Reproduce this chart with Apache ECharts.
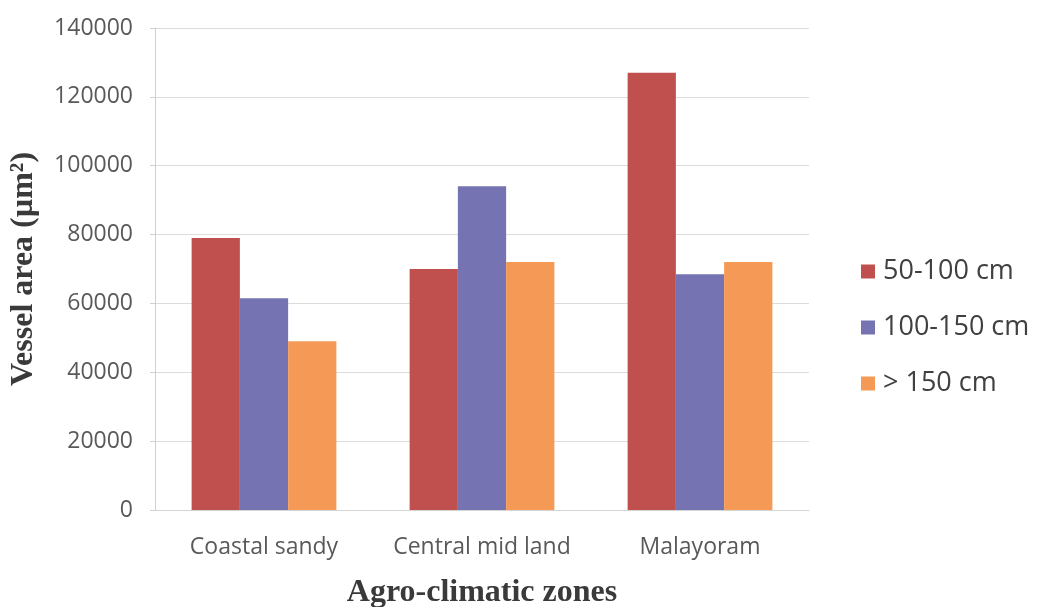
<!DOCTYPE html>
<html>
<head>
<meta charset="utf-8">
<script src="https://cdn.jsdelivr.net/npm/echarts@6/dist/echarts.min.js"></script>
<style>
  html, body { margin: 0; padding: 0; background: #ffffff; }
  #chart { width: 1038px; height: 607px; }
</style>
</head>
<body>
<div id="chart"></div>
<script>
// Agro-climatic zones on the x axis
const zones = ['Coastal sandy', 'Central mid land', 'Malayoram'];

// Vessel area (µm²) per rainfall class
const series50to100 = [79000, 70000, 127000];
const series100to150 = [61500, 94000, 68500];
const seriesOver150 = [49000, 72000, 72000];

const seriesNames = ['50-100 cm', '100-150 cm', '> 150 cm'];
const seriesColors = ['#C0504D', '#7573B1', '#F59A56'];

const yTicks = { min: 0, max: 140000, interval: 20000 };

const chart = echarts.init(document.getElementById('chart'), null, { renderer: 'canvas' });

const barValues = [series50to100, series100to150, seriesOver150];
const sansFont = '"Open Sans", Lato, sans-serif';
const serifFont = '"Liberation Serif", "Times New Roman", serif';

chart.setOption({
  backgroundColor: '#ffffff',
  animation: false,
  grid: { left: 155, right: 229, top: 28, bottom: 97, containLabel: false, outerBoundsMode: 'none' },
  legend: {
    orient: 'vertical',
    left: 856,
    top: 253,
    itemWidth: 14,
    itemHeight: 14,
    itemGap: 29,
    icon: 'rect',
    textStyle: { fontFamily: sansFont, fontSize: 27, color: '#404040', padding: [0, 0, 0, 3] },
    data: seriesNames
  },
  xAxis: {
    type: 'category',
    data: zones,
    name: 'Agro-climatic zones',
    nameLocation: 'middle',
    nameGap: 67,
    nameTextStyle: { fontFamily: serifFont, fontWeight: 'bold', fontSize: 32, color: '#3a3a3a' },
    axisLine: { show: true, lineStyle: { color: '#d4d4d4', width: 1 } },
    axisTick: { show: false },
    axisLabel: {
      fontFamily: sansFont, fontSize: 23, color: '#595959', margin: 26,
      interval: 0, hideOverlap: false
    }
  },
  yAxis: {
    type: 'value',
    min: yTicks.min,
    max: yTicks.max,
    interval: yTicks.interval,
    name: 'Vessel area (µm²)',
    nameLocation: 'middle',
    nameGap: 115,
    nameRotate: 90,
    nameTextStyle: { fontFamily: serifFont, fontWeight: 'bold', fontSize: 32, color: '#3a3a3a' },
    axisLine: { show: true, lineStyle: { color: '#d0d0d0', width: 1 } },
    axisTick: { show: true, length: 5, lineStyle: { color: '#d0d0d0' } },
    axisLabel: {
      fontFamily: sansFont, fontSize: 23, color: '#595959', margin: 22,
      formatter: (v) => String(v)
    },
    splitLine: { show: true, lineStyle: { color: '#dcdcdc', width: 1 } }
  },
  series: seriesNames.map((name, i) => ({
    name: name,
    type: 'bar',
    data: barValues[i],
    barGap: '0%',
    barCategoryGap: '33.6%',
    itemStyle: { color: seriesColors[i] }
  }))
});
</script>
</body>
</html>
